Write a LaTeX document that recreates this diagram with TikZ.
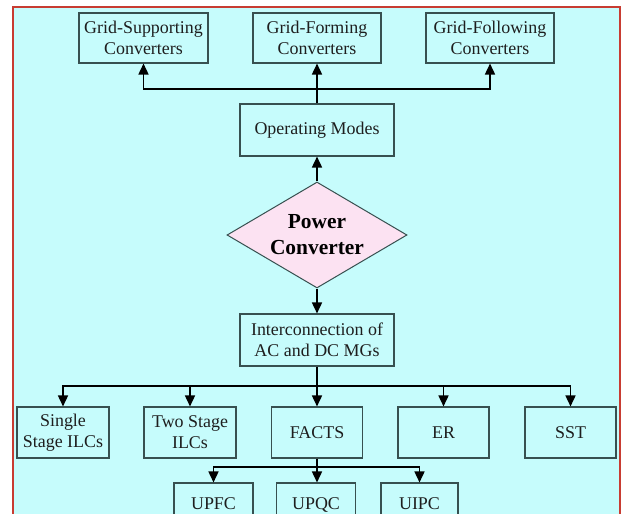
\documentclass[tikz,border=0pt]{standalone}
\usepackage{fontspec}
\setmainfont{Liberation Serif}
\usetikzlibrary{shapes.geometric,arrows.meta}
\definecolor{panelbg}{RGB}{198,252,252}
\definecolor{panelred}{RGB}{200,60,50}
\definecolor{boxline}{RGB}{55,80,80}
\definecolor{pcfill}{RGB}{252,226,242}
\definecolor{txt}{RGB}{30,30,30}
\tikzset{
  box/.style={draw=boxline, line width=1.1bp, fill=panelbg, align=center, inner sep=0pt,
    text=txt, font=\fontsize{18}{21}\selectfont},
  subbox/.style={box, minimum height=40bp, text height=12bp, text depth=0pt},
  arr/.style={draw=black, line width=1.6bp, -{Triangle[length=11bp,width=10bp]}},
}
\begin{document}
\begin{tikzpicture}[x=1bp,y=-1bp]
\useasboundingbox (0,0) rectangle (621,514);
\clip (0,0) rectangle (621,514);
\fill[white] (0,0) rectangle (621,514);
\draw[panelred, fill=panelbg, line width=1.2bp] (13,7) rectangle (620,530);
% top row
\node[box, minimum width=129bp, minimum height=50bp] (gs) at (143.5,38) {Grid-Supporting\\Converters};
\node[box, minimum width=128bp, minimum height=50bp] (gf) at (317,38) {Grid-Forming\\Converters};
\node[box, minimum width=128bp, minimum height=50bp] (gfo) at (490,38) {Grid-Following\\Converters};
\node[box, minimum width=154bp, minimum height=52bp] (om) at (317,130) {Operating Modes};
% diamond
\node[diamond, draw=boxline, line width=1bp, fill=pcfill, inner sep=0pt,
      minimum width=180bp, minimum height=106bp] (pc) at (317,235) {};
\node[align=center, text=black, font=\fontsize{21.5}{26}\selectfont\bfseries] (pct) at (317,235) {Power\\Converter};
\node[box, minimum width=154bp, minimum height=52bp] (ic) at (317,340) {Interconnection of\\AC and DC MGs};
% second row
\node[box, minimum width=92bp, minimum height=51bp] (sing) at (63,432.5) {Single\\Stage ILCs};
\node[box, minimum width=92bp, minimum height=51bp] (two) at (190,432.5) {Two Stage\\ILCs};
\node[box, minimum width=91bp, minimum height=51bp] (facts) at (317,432.5) {FACTS};
\node[box, minimum width=91bp, minimum height=51bp] (er) at (443.5,432.5) {ER};
\node[box, minimum width=91bp, minimum height=51bp] (sst) at (570.5,432.5) {SST};
% third row
\node[subbox, minimum width=79bp] (upfc) at (213.5,503) {UPFC};
\node[subbox, minimum width=79bp] (upqc) at (316,503) {UPQC};
\node[subbox, minimum width=77bp] (uipc) at (419.5,503) {UIPC};
% connectors top
\coordinate (tb) at (317,89);
\draw[arr] (om.north) -- (gf.south);
\draw[arr] (tb) -| (gs.south);
\draw[arr] (tb) -| (gfo.south);
\draw[arr] (pc.north) -- (om.south);
\draw[arr] (pc.south) -- (ic.north);
% connectors lower
\coordinate (bb) at (317,386);
\draw[arr] (ic.south) -- (facts.north);
\draw[arr] (bb) -| (sing.north);
\draw[arr] (bb) -| (two.north);
\draw[arr] (bb) -| (er.north);
\draw[arr] (bb) -| (sst.north);
\coordinate (sb) at (317,467);
\draw[arr] (facts.south) -- (facts.south |- upqc.north);
\draw[arr] (sb) -| (upfc.north);
\draw[arr] (sb) -| (uipc.north);
\end{tikzpicture}
\end{document}
